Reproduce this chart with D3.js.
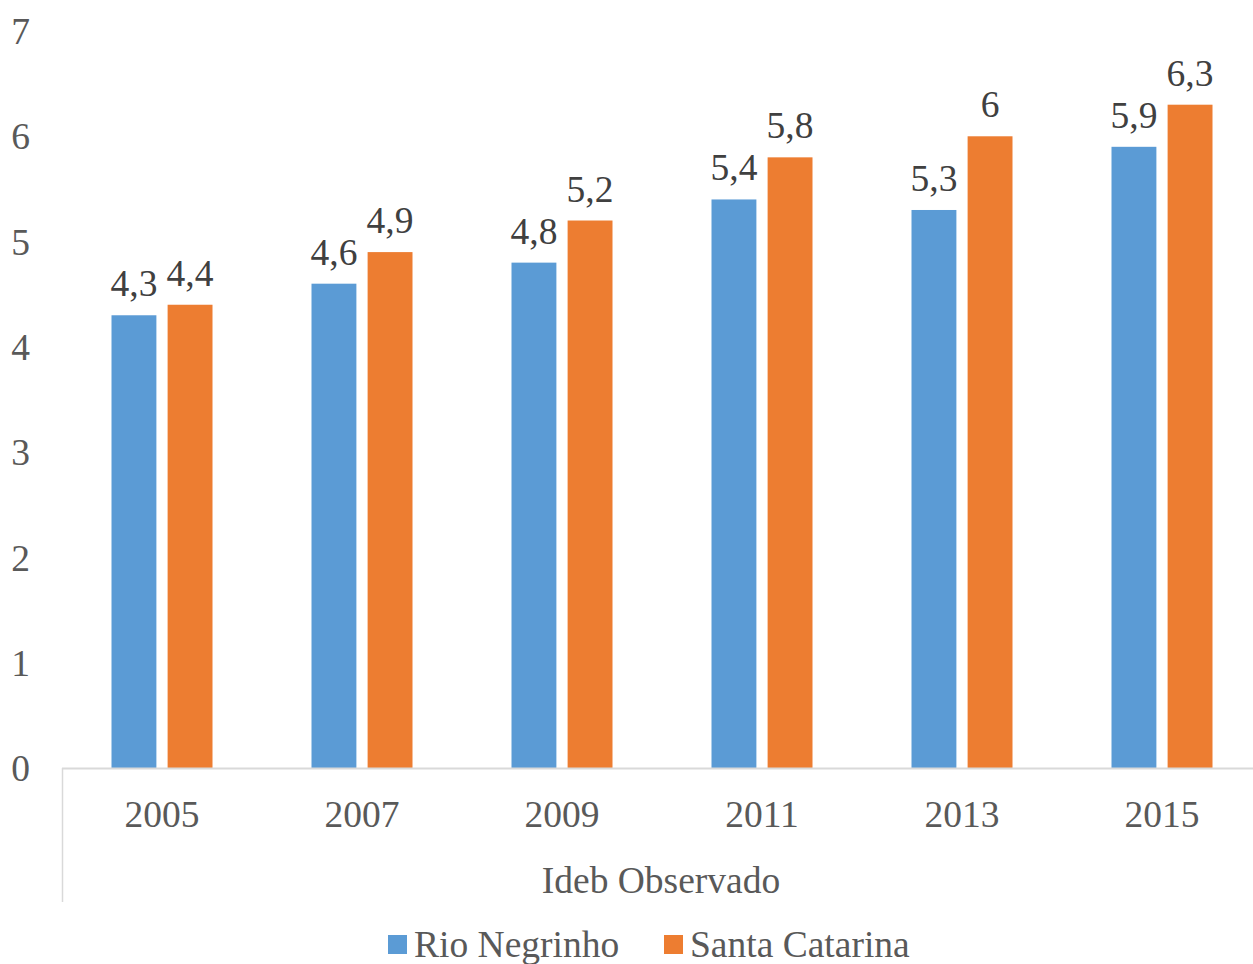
<!DOCTYPE html>
<html>
<head>
<meta charset="utf-8">
<script src="https://cdn.jsdelivr.net/npm/d3@7/dist/d3.min.js"></script>
<style>
  html, body { margin: 0; padding: 0; background: #fff; }
  svg { display: block; }
</style>
</head>
<body>
<svg id="chart" width="1253" height="964" font-family="'Liberation Serif', 'DejaVu Serif', serif"></svg>
<script>
const categories = ["2005", "2007", "2009", "2011", "2013", "2015"];
const seriesNames = ["Rio Negrinho", "Santa Catarina"];
const rioNegrinho = [4.3, 4.6, 4.8, 5.4, 5.3, 5.9];
const santaCatarina = [4.4, 4.9, 5.2, 5.8, 6.0, 6.3];
const yTicks = [0, 1, 2, 3, 4, 5, 6, 7];
const axisTitle = "Ideb Observado";
const colors = ["#5B9BD5", "#ED7D31"];

const seriesValues = [rioNegrinho, santaCatarina];
const svg = d3.select("#chart");
const FONT = "'Liberation Serif', 'DejaVu Serif', serif";
const FS = 37.5;

const x0 = d3.scaleBand().domain(categories).range([62, 1262]).padding(0);
const x1 = d3.scaleBand().domain(seriesNames).range([49.5, 150.5]).paddingInner(0.2).paddingOuter(0);
const y = d3.scaleLinear().domain([0, 7]).range([768, 31]);

const fmt = v => String(v).replace(".", ",");

// y tick labels
svg.append("g").selectAll("text").data(yTicks).join("text")
  .attr("font-family", FONT)
  .attr("x", 30).attr("y", d => y(d)).attr("dy", "0.35em")
  .attr("text-anchor", "end").attr("font-size", FS).attr("fill", "#595959")
  .text(d => d);

// bars
const groups = svg.append("g").selectAll("g").data(categories).join("g")
  .attr("transform", d => `translate(${x0(d)},0)`);

groups.selectAll("rect").data((d, i) => seriesNames.map((s, j) => ({ s, j, v: seriesValues[j][i] })))
  .join("rect")
  .attr("x", d => x1(d.s)).attr("width", x1.bandwidth())
  .attr("y", d => y(d.v)).attr("height", d => y(0) - y(d.v))
  .attr("fill", d => colors[d.j]);

groups.selectAll("text").data((d, i) => seriesNames.map((s, j) => ({ s, j, v: seriesValues[j][i] })))
  .join("text")
  .attr("font-family", FONT)
  .attr("x", d => x1(d.s) + x1.bandwidth() / 2).attr("y", d => y(d.v) - 19)
  .attr("text-anchor", "middle").attr("font-size", FS).attr("fill", "#404040")
  .text(d => fmt(d.v));

// axis lines
svg.append("line").attr("x1", 62).attr("x2", 1253).attr("y1", y(0) + 0.5).attr("y2", y(0) + 0.5)
  .attr("stroke", "#D9D9D9").attr("stroke-width", 2);
svg.append("line").attr("x1", 62.5).attr("x2", 62.5).attr("y1", y(0)).attr("y2", 902)
  .attr("stroke", "#D9D9D9").attr("stroke-width", 1.5);

// category labels
svg.append("g").selectAll("text").data(categories).join("text")
  .attr("font-family", FONT)
  .attr("x", d => x0(d) + x0.bandwidth() / 2).attr("y", 827)
  .attr("text-anchor", "middle").attr("font-size", FS).attr("fill", "#595959")
  .text(d => d);

svg.append("text").attr("font-family", FONT).attr("x", 661).attr("y", 893).attr("text-anchor", "middle")
  .attr("font-size", FS).attr("fill", "#595959").text(axisTitle);

// legend
const legendX = [388, 664];
const lg = svg.append("g").selectAll("g").data(seriesNames).join("g")
  .attr("transform", (d, i) => `translate(${legendX[i]},0)`);
lg.append("rect").attr("x", 0).attr("y", 935).attr("width", 19).attr("height", 19)
  .attr("fill", (d, i) => colors[i]);
lg.append("text").attr("font-family", FONT).attr("x", 26).attr("y", 957).attr("font-size", FS).attr("fill", "#595959")
  .text(d => d);
</script>
</body>
</html>
